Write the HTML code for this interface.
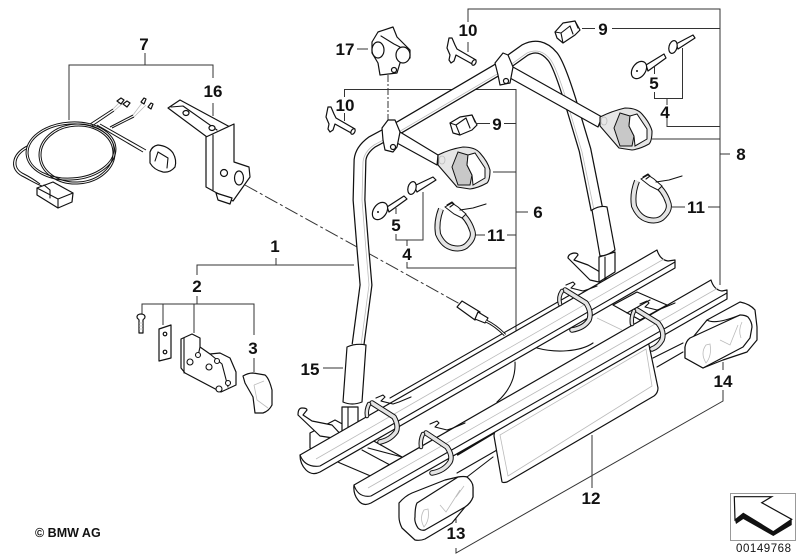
<!DOCTYPE html>
<html><head><meta charset="utf-8"><style>
html,body{margin:0;padding:0;background:#fff}
svg{display:block}
.l{stroke:#333;stroke-width:1;fill:none}
.o{stroke:#111;stroke-width:1.2;fill:#fff;stroke-linejoin:round}
.n{stroke:#111;stroke-width:1.1;fill:none;stroke-linejoin:round;stroke-linecap:round}
.g{stroke:#bbb;stroke-width:.8;fill:none}
.s{stroke:#111;stroke-width:1.1;fill:#e6e6e6;stroke-linejoin:round}
text{font-family:"Liberation Sans",sans-serif;fill:#111}
.t{font-size:17px;font-weight:bold;text-anchor:middle}
</style></head><body>
<svg width="799" height="559" viewBox="0 0 799 559" xmlns="http://www.w3.org/2000/svg">
<rect width="799" height="559" fill="#fff"/>
<!-- leaders -->
<path class="l" d="M145,53V65M69,120V65H213V78M213,103V116"/>
<path class="l" d="M357,49H368"/>
<path class="l" d="M468,22V9H720V285M468,42V52"/>
<path class="l" d="M344.500,97V89.500H516V337M344.500,113V121"/>
<path class="l" d="M477,123.500H490M504,123.500H516M493,172H516M516,212H528M475,235H485M507,235H516"/>
<path class="l" d="M396,208V214M396,234V240H423V192M407,240V246M407,262V268H516"/>
<path class="l" d="M582,28.500H595M612,28.500H720M654.500,67V74M654.500,92V98.500H682.500V48M667,98.500V105M667,118V126.500H720M652,139H720M720,154H730M672,207H685M708,207H720"/>
<path class="l" d="M276,258V265M197,275V265H354M197,296V304M142,315V304H254V335M163,304V325M194,304V333M254,358V372M323,368H343"/>
<path class="l" d="M723,362V370M723,390V401L456,553V548M456,523V515M592,435V488"/>
<path class="l" stroke-dasharray="14 3 3 3" d="M245,185L460,304"/>
<path class="l" stroke-dasharray="7 2 2 2" d="M388,75V120"/>

<!-- part 7 harness -->
<g fill="none" stroke="#111" stroke-width="1">
<ellipse cx="71" cy="151" rx="45" ry="29" transform="rotate(-4 71 151)"/>
<ellipse cx="71" cy="151" rx="43" ry="27" transform="rotate(-4 71 151)"/>
<ellipse cx="77" cy="154" rx="38" ry="30" transform="rotate(-4 77 154)"/>
<ellipse cx="77" cy="154" rx="36" ry="28" transform="rotate(-4 77 154)"/>
<path d="M27,146C10,155 10,170 22,176C30,180 36,184 42,186"/>
<path d="M26,149C13,157 13,169 24,174C30,177 36,181 40,184"/>
<path d="M90,124L113,109M92,126L114,111"/>
<path d="M110,127L133,115M112,128L134,117"/>
<path d="M97,125L143,152M100,124L146,150"/>
</g>
<path class="g" d="M113,109L120,102M114,111L122,104M133,115L142,103M134,117L146,105"/>
<path class="o" d="M37,188L53,182L73,193L72,202L58,208L37,195Z"/>
<path class="n" d="M37,188L58,199L58,208M58,199L73,193M44,185L50,190L50,198"/>
<path class="o" d="M150,152Q152,146 158,145Q168,146 173,153Q177,160 175,167Q170,173 163,172Q154,170 150,163Z"/>
<path class="n" d="M158,152L168,158L167,168M158,152L155,161"/>
<path class="o" d="M117,101l4-3 3,2-3,4zM123,104l4-3 3,2-3,4zM141,102l3-4 2,1-2,5zM148,107l3-4 2,1-2,5z"/>

<!-- part 16 bracket -->
<path class="o" d="M168,108L180,100L230,127L207,137Z"/>
<path class="n" d="M171,107L183,106L217,130"/>
<ellipse class="o" cx="186" cy="113" rx="3" ry="2.500"/><ellipse class="o" cx="212" cy="128" rx="3" ry="2.500"/>
<path class="o" d="M206,137L234,124L234,162L249,167L250,177L233,201L215,192L206,187Z"/>
<path class="n" d="M213,135V190"/>
<circle class="o" cx="224" cy="173" r="3.500"/>
<ellipse class="o" cx="239" cy="178" rx="4.500" ry="7"/>
<path class="o" d="M216,193L232,198L230,204L218,200Z"/>

<!-- part 2 -->
<path class="o" d="M137,317c0-4 8-4 8,0c0,2-2,2-2,3v13h-4v-13c0-1-2-1-2-3Z"/>
<path class="g" d="M139,323h4M139,326h4M139,329h4"/>
<path class="o" d="M159,329L171,325L171,358L159,361Z"/>
<circle class="o" cx="165" cy="334" r="1.800"/><circle class="o" cx="165" cy="352" r="1.800"/>
<path class="o" d="M181,339L192,334L200,338L200,347L210,354L220,353L230,358L236,372L236,385L221,392L185,373L181,368Z"/>
<path class="n" d="M184,338V373M200,347L198,356M210,354L222,364L228,387"/>
<g fill="#fff" stroke="#111" stroke-width="1.100">
<circle cx="190" cy="362" r="3"/><circle cx="209" cy="367" r="3"/><circle cx="219" cy="389" r="3"/><circle cx="198" cy="355" r="2.500"/><circle cx="217" cy="361" r="2.500"/><circle cx="228" cy="383" r="2.500"/></g>
<!-- part 3 -->
<path class="o" d="M243,376Q248,373 253,373L265,375Q269,378 272,390L272,405Q269,411 263,413L255,413L253,397L245,383Z"/>
<path class="g" d="M254,385L264,381M254,385L257,400L268,408"/>

<!-- cross bars + base -->
<path class="o" d="M310,433L335,420L372,440L402,457L380,480L340,463L310,448Z"/>
<path class="n" d="M362,450L390,465M368,448L402,457"/>
<path class="o" d="M298,415Q298,408 302,408Q307,408 307,410L303,415L312,421L332,425L346,440L320,436Z"/>
<path class="o" d="M568,258Q568,254 574,253Q578,253 578,255L574,260L588,265L600,272L612,285L590,280Z"/>
<path class="o" d="M613,305L637,292L667,305L640,320Z"/>
<path class="n" d="M627,313L650,300"/>
<path class="g" d="M597,318L622,330"/>

<!-- bike plate back / wheel disc -->
<path class="n" d="M537,348C555,353 580,352 593,343M515,362C516,380 507,393 497,402"/>

<!-- bars below -->
<path class="n" d="M457,473L497,450M467,477L493,457M653,358L683,343M657,367L683,352"/>
<path stroke="#111" stroke-width="2" fill="none" d="M457,455L647,341"/>
<path class="n" d="M446,460L650,340"/>

<!-- plate 12 -->
<path class="o" d="M498,428Q494,431 494,436L502,482Q503,483 507,482L654,396Q658,393 658,388L649,345Q648,341 644,343Z"/>
<path class="g" d="M500,435L646,349L652,386L508,476Z"/>

<!-- posts -->
<path class="o" d="M342,407H358V425L342,432Z"/><path class="n" d="M348,407V430"/>
<path class="o" d="M599,257L615,252V272L599,282Z"/><path class="n" d="M605,257V280"/>

<!-- hoop tube -->
<path fill="none" stroke="#111" stroke-width="13" stroke-linejoin="round" d="M358,345L366,285L363,250L359,200L360,160Q361,150 372,142L400,127L497,70L525,50Q540,42 552,56Q558,62 570,100L585,150L597,210"/>
<path fill="none" stroke="#fff" stroke-width="10.500" stroke-linejoin="round" d="M358,345L366,285L363,250L359,200L360,160Q361,150 372,142L400,127L497,70L525,50Q540,42 552,56Q558,62 570,100L585,150L597,210"/>
<path fill="none" stroke="#bbb" stroke-width=".8" d="M361,345L369,285L366,250L362,200L363,162Q364,152 374,145L402,130L499,73L527,53Q540,47 550,59Q556,66 567,102L582,152L594,210"/>
<!-- sleeves -->
<path class="o" d="M347,347Q356,343 366,345L362,402Q352,406 343,402Z"/>
<path class="o" d="M592,210Q600,205 607,207L615,250Q607,256 600,256Z"/>

<!-- arms -->
<path class="o" d="M400,132L438,155L437,165L397,143Z"/>
<path class="o" d="M513,67L602,117L598,127L510,78Z"/>
<!-- clamps -->
<path class="o" d="M382,128L388,120L395,120L400,132L397,147L393,152L385,150L383,140Z"/>
<path class="o" d="M495,63L503,53L508,55L513,67L510,83L500,85L498,75Z"/>
<circle class="o" cx="393" cy="147" r="2.500"/><circle class="o" cx="506" cy="81" r="2.500"/>
<!-- cups -->
<path class="s" d="M438,155Q450,149 463,147Q475,147 480,153Q488,162 490,170Q490,180 487,183Q478,188 470,189L457,187L438,165Z"/>
<path fill="#c8c8c8" stroke="#111" d="M452,167L458,152L468,155L467,165L472,175L470,185L458,185Z"/>
<path fill="#fff" stroke="#111" d="M468,155L475,153L485,168L485,178L473,185L472,175L467,165Z"/>
<ellipse class="g" cx="442" cy="160" rx="3" ry="4"/>
<path class="s" d="M600,117Q612,111 625,108Q637,108 642,114Q650,123 652,131Q652,141 649,144Q640,149 632,150L619,148L600,126Z"/>
<path fill="#c8c8c8" stroke="#111" d="M614,128L620,113L630,116L629,126L634,136L632,146L620,146Z"/>
<path fill="#fff" stroke="#111" d="M630,116L637,114L647,129L647,139L635,146L634,136L629,126Z"/>
<ellipse class="g" cx="604" cy="121" rx="3" ry="4"/>

<!-- rail 1 -->
<path class="n" d="M390,398L570,295"/>
<path class="o" d="M300,455L657,250Q660,260 668,261L675,260L675,268L320,472Q312,476 306,470Q300,464 300,455Z"/>
<path class="n" d="M300,455Q305,468 320,466L675,262"/>
<path class="g" d="M316,459L664,259"/>
<!-- rail 2 -->
<path class="o" d="M354,485L711,280Q714,290 722,291L727,290L727,299L371,503Q363,507 358,500Q353,494 354,485Z"/>
<path class="n" d="M354,485Q358,498 371,496L727,293"/>
<path class="g" d="M368,488L718,288"/>

<!-- rail straps -->
<g fill="none" stroke-linecap="round" stroke-linejoin="round">
<path stroke="#111" stroke-width="5.500" d="M372,403L394,417Q399,426 396,432Q390,440 380,442"/>
<path stroke="#e4e4e4" stroke-width="3.500" d="M372,403L394,417Q399,426 396,432Q390,440 380,442"/>
<path stroke="#111" stroke-width="4.500" d="M369,404Q366,410 367,416"/>
<path stroke="#e4e4e4" stroke-width="2.500" d="M369,404Q366,410 367,416"/>
<path stroke="#111" stroke-width="5.500" d="M426,433L447,447Q453,456 450,462Q444,471 432,473"/>
<path stroke="#e4e4e4" stroke-width="3.500" d="M426,433L447,447Q453,456 450,462Q444,471 432,473"/>
<path stroke="#111" stroke-width="4.500" d="M423,434Q420,440 421,447"/>
<path stroke="#e4e4e4" stroke-width="2.500" d="M423,434Q420,440 421,447"/>
<path stroke="#111" stroke-width="5.500" d="M565,290L586,303Q592,312 589,320Q584,328 572,330"/>
<path stroke="#e4e4e4" stroke-width="3.500" d="M565,290L586,303Q592,312 589,320Q584,328 572,330"/>
<path stroke="#111" stroke-width="4.500" d="M562,291Q558,297 560,304"/>
<path stroke="#e4e4e4" stroke-width="2.500" d="M562,291Q558,297 560,304"/>
<path stroke="#111" stroke-width="5.500" d="M637,310L658,323Q665,332 662,340Q658,347 652,349"/>
<path stroke="#e4e4e4" stroke-width="3.500" d="M637,310L658,323Q665,332 662,340Q658,347 652,349"/>
<path stroke="#111" stroke-width="4.500" d="M634,311Q631,317 632,324"/>
<path stroke="#e4e4e4" stroke-width="2.500" d="M634,311Q631,317 632,324"/>
</g>
<path class="n" d="M376,398l7-3 2,2-4,4 12,3 6-2 12-5M430,424l7-3 2,2-4,4 12,3 6-2 12-5M566,285l7-3 2,2-4,4 12,3 6-2 8-3M640,304l7-3 2,2-4,4 12,3 6-2 12-5"/>

<!-- plug -->
<path class="o" d="M457,307L462,301L480,312L475,320Z"/>
<path class="o" d="M478,312L488,318L485,323L475,319Z"/>
<path fill="none" stroke="#111" stroke-width="3" d="M486,321Q495,325 505,335"/>
<path fill="none" stroke="#fff" stroke-width="1" d="M486,321Q495,325 505,335"/>

<!-- lights -->
<path class="o" d="M399,503Q405,496 412,493L445,480L458,477L467,477L473,487L473,497L465,507L452,523L425,539Q420,541 415,540L402,528Q399,522 399,517Z"/>
<path class="o" d="M417,503L458,477Q464,476 467,477Q473,482 473,487L473,497Q471,503 465,507L425,530Q421,531 418,528Q414,522 415,517Q415,507 417,503Z"/>
<path class="g" d="M424,510Q419,518 424,527Q430,520 428,509ZM440,505L446,512L460,490M456,497L464,486"/>
<path class="o" d="M707,320L740,302Q750,304 755,310L757,327L757,340L747,352L723,360L703,368L685,358L685,347Z"/>
<path class="o" d="M685,347Q686,341 690,338L740,315Q745,315 748,317Q752,322 752,327L750,338L743,347L703,368L685,358Z"/>
<path class="g" d="M706,345Q700,353 706,363Q712,356 710,344ZM720,340L730,345L738,325M742,322Q738,330 741,338"/>
<path class="n" d="M707,320Q715,325 740,315"/>

<!-- part 17 -->
<path class="o" d="M372,42L378,32L393,27L397,37L410,50L410,58L400,63L397,73L380,75L378,63L372,53Z"/>
<ellipse class="o" cx="378" cy="50" rx="6" ry="8"/>
<ellipse class="o" cx="403" cy="55" rx="7" ry="8"/>
<circle class="o" cx="394" cy="70" r="2.500"/>
<path class="n" d="M381,36L394,44L400,47"/>

<!-- part 10 -->
<path class="o" d="M449,38l3,0 3,7 2,4 19,11-2,5-18-10-2,6-3,2-2-3 1-5-3-7Z"/>
<ellipse class="o" cx="474" cy="62.500" rx="1.800" ry="3" transform="rotate(30 474 62.500)"/>
<path class="o" d="M328,107l3,0 3,7 2,4 19,11-2,5-18-10-2,6-3,2-2-3 1-5-3-7Z"/>
<ellipse class="o" cx="353" cy="131.500" rx="1.800" ry="3" transform="rotate(30 353 131.500)"/>

<!-- part 9 nuts -->
<path class="o" d="M450,123L460,117L472,115L477,125L472,130L460,135L453,133Z"/>
<path class="n" d="M450,123L456,125L460,135M456,125L466,118M466,118L470,128M472,115L475,122"/>
<path class="o" d="M555,32L563,23L575,21L580,30L575,35L563,43L557,38Z"/>
<path class="n" d="M555,32L561,33L563,43M561,33L570,26M570,26L573,34M575,21L578,28"/>

<!-- parts 4/5 -->
<path class="o" d="M414,186L433,177L436,180L417,192Z"/>
<ellipse class="o" cx="412" cy="188" rx="4" ry="6.500" transform="rotate(15 412 188)"/>
<path class="o" d="M387,207L404,196L407,199L389,212Z"/>
<ellipse class="o" cx="380" cy="211" rx="6.500" ry="9.500" transform="rotate(35 380 211)"/>
<circle cx="378" cy="212" r="1" fill="#111"/>
<path class="o" d="M676,44L693,35L695,38L678,49Z"/>
<ellipse class="o" cx="673" cy="47" rx="4" ry="6.500" transform="rotate(15 673 47)"/>
<path class="o" d="M646,65L664,54L666,58L648,71Z"/>
<ellipse class="o" cx="639" cy="70" rx="6.500" ry="9.500" transform="rotate(35 639 70)"/>
<circle cx="637" cy="71" r="1" fill="#111"/>

<!-- part 11 -->
<g id="st">
<path fill="none" stroke="#111" stroke-width="6" stroke-linejoin="round" d="M441,209Q436,222 438,234Q443,246 453,248Q463,250 468,244Q475,237 472,230Q468,218 458,211"/>
<path fill="none" stroke="#e4e4e4" stroke-width="4" stroke-linejoin="round" d="M441,209Q436,222 438,234Q443,246 453,248Q463,250 468,244Q475,237 472,230Q468,218 458,211"/>
<path fill="#fff" stroke="#111" stroke-width="1" d="M445,207L452,203L458,207L466,214L462,218L454,214Z"/>
<path class="n" d="M447,205l5-3 2,2-4,3M460,210L473,208L486,204"/>
</g>
<g transform="translate(196,-28)">
<path fill="none" stroke="#111" stroke-width="6" stroke-linejoin="round" d="M441,209Q436,222 438,234Q443,246 453,248Q463,250 468,244Q475,237 472,230Q468,218 458,211"/>
<path fill="none" stroke="#e4e4e4" stroke-width="4" stroke-linejoin="round" d="M441,209Q436,222 438,234Q443,246 453,248Q463,250 468,244Q475,237 472,230Q468,218 458,211"/>
<path fill="#fff" stroke="#111" stroke-width="1" d="M445,207L452,203L458,207L466,214L462,218L454,214Z"/>
<path class="n" d="M447,205l5-3 2,2-4,3M460,210L473,208L486,204"/>
</g>

<!-- labels -->
<text class="t" x="144" y="50">7</text>
<text class="t" x="213" y="97">16</text>
<text class="t" x="345" y="55">17</text>
<text class="t" x="468" y="36">10</text>
<text class="t" x="345" y="111">10</text>
<text class="t" x="497" y="130">9</text>
<text class="t" x="538" y="218">6</text>
<text class="t" x="396" y="231">5</text>
<text class="t" x="407" y="260">4</text>
<text class="t" x="496" y="241">11</text>
<text class="t" x="603" y="35">9</text>
<text class="t" x="654" y="89">5</text>
<text class="t" x="665" y="118">4</text>
<text class="t" x="741" y="160">8</text>
<text class="t" x="696" y="213">11</text>
<text class="t" x="275" y="252">1</text>
<text class="t" x="197" y="292">2</text>
<text class="t" x="253" y="354">3</text>
<text class="t" x="310" y="375">15</text>
<text class="t" x="456" y="539">13</text>
<text class="t" x="723" y="387">14</text>
<text class="t" x="591" y="504">12</text>

<text x="35" y="537" font-size="12.500" font-weight="bold">© BMW AG</text>
<rect x="730.500" y="493.500" width="65" height="47" fill="#fff" stroke="#999" stroke-width="1"/>
<path fill="#fff" stroke="#111" stroke-width="1.200" d="M734.300,496.700H771.700L761.700,502.700L791.700,519.300L773.300,531.700L743.300,513.300L735,520Z"/>
<path fill="#111" d="M735,520L743.300,513.300L773.300,531.700L791.700,519.300V525L773.300,536L743.300,519L736,524Z"/>
<text x="736" y="552" font-size="11.500" textLength="55">00149768</text>
</svg>
</body></html>
